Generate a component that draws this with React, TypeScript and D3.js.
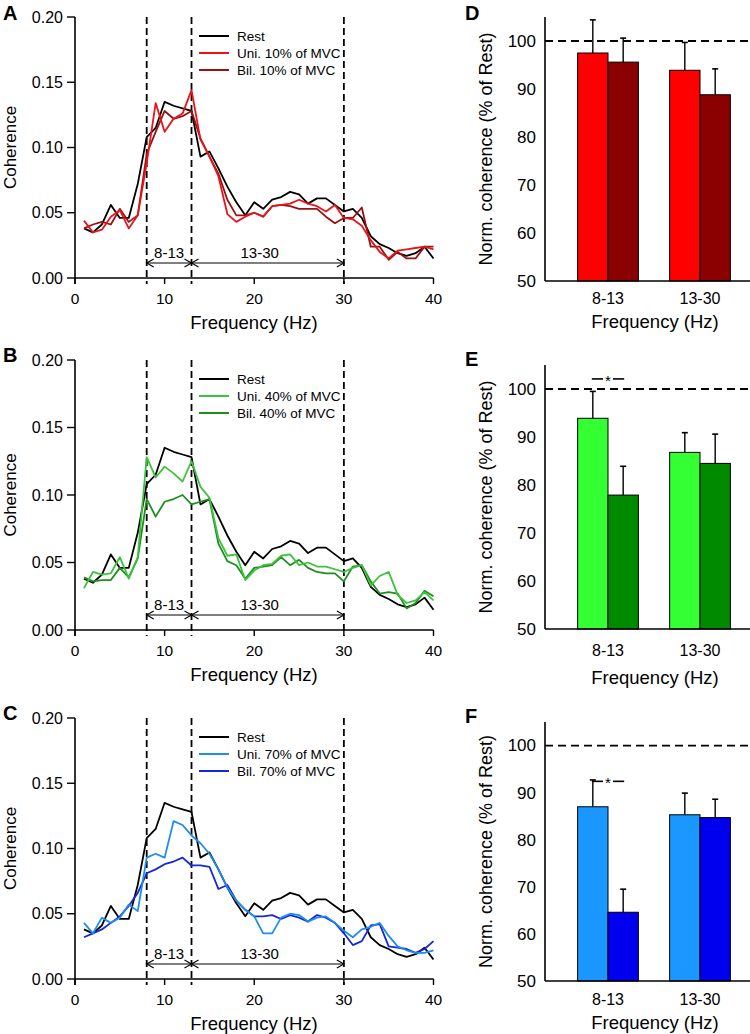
import React from 'react';
import * as d3 from 'd3';

// ---------- data ----------
const freqs = [1, 2, 3, 4, 5, 6, 7, 8, 9, 10, 11, 12, 13, 14, 15, 16, 17, 18, 19, 20,
  21, 22, 23, 24, 25, 26, 27, 28, 29, 30, 31, 32, 33, 34, 35, 36, 37, 38, 39, 40];

const rest = [0.038, 0.035, 0.041, 0.056, 0.046, 0.046, 0.072, 0.108, 0.115, 0.135,
  0.132, 0.130, 0.128, 0.093, 0.097, 0.084, 0.070, 0.058, 0.048, 0.058,
  0.053, 0.060, 0.062, 0.066, 0.064, 0.057, 0.061, 0.061, 0.056, 0.051,
  0.053, 0.046, 0.032, 0.026, 0.023, 0.019, 0.017, 0.019, 0.024, 0.015];

const uni10 = [0.044, 0.035, 0.037, 0.047, 0.052, 0.038, 0.048, 0.088, 0.134, 0.112,
  0.122, 0.126, 0.144, 0.106, 0.093, 0.078, 0.049, 0.043, 0.047, 0.050,
  0.047, 0.055, 0.056, 0.057, 0.060, 0.057, 0.055, 0.051, 0.056, 0.046,
  0.045, 0.040, 0.029, 0.020, 0.015, 0.021, 0.022, 0.023, 0.024, 0.022];

const bil10 = [0.038, 0.041, 0.043, 0.041, 0.053, 0.043, 0.048, 0.095, 0.112, 0.128,
  0.122, 0.124, 0.128, 0.107, 0.093, 0.080, 0.060, 0.048, 0.048, 0.050,
  0.047, 0.055, 0.056, 0.055, 0.053, 0.053, 0.053, 0.047, 0.042, 0.046,
  0.046, 0.054, 0.024, 0.024, 0.014, 0.020, 0.015, 0.015, 0.024, 0.024];

const uni40 = [0.031, 0.043, 0.041, 0.042, 0.054, 0.038, 0.054, 0.128, 0.113, 0.121,
  0.116, 0.110, 0.125, 0.106, 0.098, 0.068, 0.055, 0.056, 0.037, 0.044,
  0.048, 0.049, 0.055, 0.056, 0.048, 0.050, 0.047, 0.047, 0.045, 0.043,
  0.046, 0.048, 0.033, 0.040, 0.043, 0.026, 0.020, 0.022, 0.028, 0.022];

const bil40 = [0.039, 0.036, 0.037, 0.037, 0.046, 0.039, 0.053, 0.097, 0.084, 0.095,
  0.097, 0.100, 0.093, 0.095, 0.097, 0.064, 0.051, 0.048, 0.038, 0.046,
  0.047, 0.048, 0.054, 0.048, 0.052, 0.046, 0.043, 0.042, 0.042, 0.036,
  0.047, 0.048, 0.036, 0.027, 0.028, 0.027, 0.016, 0.020, 0.029, 0.025];

const uni70 = [0.043, 0.035, 0.047, 0.043, 0.047, 0.057, 0.052, 0.093, 0.096, 0.093,
  0.121, 0.118, 0.110, 0.104, 0.096, 0.084, 0.070, 0.060, 0.053, 0.048,
  0.035, 0.035, 0.047, 0.050, 0.049, 0.044, 0.047, 0.048, 0.043, 0.037,
  0.032, 0.038, 0.040, 0.043, 0.033, 0.025, 0.022, 0.020, 0.020, 0.022];

const bil70 = [0.032, 0.035, 0.038, 0.043, 0.048, 0.056, 0.066, 0.081, 0.084, 0.088,
  0.090, 0.093, 0.087, 0.087, 0.086, 0.069, 0.072, 0.060, 0.053, 0.048,
  0.048, 0.049, 0.046, 0.049, 0.047, 0.044, 0.049, 0.047, 0.043, 0.035,
  0.026, 0.029, 0.041, 0.042, 0.025, 0.024, 0.023, 0.020, 0.023, 0.029];

const cohTicks = [0, 0.05, 0.1, 0.15, 0.2];
const freqTicks = [0, 10, 20, 30, 40];
const bandEdges = [8, 13, 30];
const bandLabels = ['8-13', '13-30'];
const normTicks = [50, 60, 70, 80, 90, 100];

// normalized coherence (% of rest): mean and top of error bar
const uni10Norm = [97.5, 93.9];
const uni10ErrTop = [104.4, 99.7];
const bil10Norm = [95.6, 88.8];
const bil10ErrTop = [100.6, 94.2];
const uni40Norm = [93.9, 86.8];
const uni40ErrTop = [99.5, 90.9];
const bil40Norm = [77.9, 84.5];
const bil40ErrTop = [83.9, 90.6];
const uni70Norm = [87.0, 85.3];
const uni70ErrTop = [92.7, 89.9];
const bil70Norm = [64.6, 84.7];
const bil70ErrTop = [69.5, 88.6];

const FONT = '"Liberation Sans", Arial, Helvetica, sans-serif';

type LineProps = {
  letter: string; top: number; bottom: number;
  uni: number[]; bil: number[]; uniColor: string; bilColor: string;
  uniLabel: string; bilLabel: string;
};

function LinePanel(p: LineProps) {
  const x = d3.scaleLinear().domain([0, 40]).range([75, 433.5]);
  const y = d3.scaleLinear().domain([0, 0.2]).range([p.bottom, p.top]);
  const line = d3.line<number>().x((_, i) => x(freqs[i])).y(d => y(d));
  const fmt = d3.format('.2f');
  const arrowY = p.bottom - 15;
  const legendRows = [
    { label: 'Rest', color: '#000' },
    { label: p.uniLabel, color: p.uniColor },
    { label: p.bilLabel, color: p.bilColor },
  ];
  const arrow = (a: number, b: number, key: string) => {
    const x1 = x(a), x2 = x(b);
    return (
      <g key={key} stroke="#000" strokeWidth={1.1} fill="none">
        <line x1={x1} x2={x2} y1={arrowY} y2={arrowY} />
        <polyline points={`${x1 + 7},${arrowY - 4} ${x1},${arrowY} ${x1 + 7},${arrowY + 4}`} />
        <polyline points={`${x2 - 7},${arrowY - 4} ${x2},${arrowY} ${x2 - 7},${arrowY + 4}`} />
      </g>
    );
  };
  return (
    <g fontFamily={FONT}>
      <text x={3} y={Math.max(p.top + 2, 20)} fontSize={20} fontWeight="bold">{p.letter}</text>
      <text transform={`translate(10,${(p.top + p.bottom) / 2}) rotate(-90)`} textAnchor="middle"
        dominantBaseline="central" fontSize={17}>Coherence</text>
      {/* axes */}
      <line x1={75} x2={75} y1={p.top} y2={p.bottom + 6} stroke="#000" strokeWidth={1.6} />
      <line x1={75} x2={433.5} y1={p.bottom} y2={p.bottom} stroke="#000" strokeWidth={1.6} />
      {cohTicks.map(t => (
        <g key={t}>
          <line x1={67} x2={75} y1={y(t)} y2={y(t)} stroke="#000" strokeWidth={1.4} />
          <text x={63} y={y(t)} dy="0.35em" textAnchor="end" fontSize={16}>{fmt(t)}</text>
        </g>
      ))}
      {freqTicks.map(t => (
        <g key={t}>
          <line x1={x(t)} x2={x(t)} y1={p.bottom} y2={p.bottom + 6} stroke="#000" strokeWidth={1.4} />
          <text x={x(t)} y={p.bottom + 21} dy="0.35em" textAnchor="middle" fontSize={15.5}>{t}</text>
        </g>
      ))}
      <text x={254} y={p.bottom + 45} dy="0.35em" textAnchor="middle" fontSize={18.5}>Frequency (Hz)</text>
      {/* band markers */}
      {bandEdges.map(b => (
        <line key={b} x1={x(b)} x2={x(b)} y1={p.top} y2={p.bottom + 6} stroke="#000"
          strokeWidth={1.8} strokeDasharray="7,4" />
      ))}
      {arrow(bandEdges[0], bandEdges[1], 'a1')}
      {arrow(bandEdges[1], bandEdges[2], 'a2')}
      <text x={(x(bandEdges[0]) + x(bandEdges[1])) / 2} y={p.bottom - 25} dy="0.35em" textAnchor="middle"
        fontSize={15}>{bandLabels[0]}</text>
      <text x={(x(bandEdges[1]) + x(bandEdges[2])) / 2 - 8} y={p.bottom - 25} dy="0.35em" textAnchor="middle"
        fontSize={15}>{bandLabels[1]}</text>
      {/* series */}
      <path d={line(rest) || ''} fill="none" stroke="#000" strokeWidth={1.8} strokeLinejoin="round" />
      <path d={line(p.bil) || ''} fill="none" stroke={p.bilColor} strokeWidth={1.8} strokeLinejoin="round" />
      <path d={line(p.uni) || ''} fill="none" stroke={p.uniColor} strokeWidth={1.8} strokeLinejoin="round" />
      {/* legend */}
      {legendRows.map((r, i) => (
        <g key={r.label}>
          <line x1={199} x2={229} y1={p.top + 19 + i * 17} y2={p.top + 19 + i * 17} stroke={r.color} strokeWidth={2} />
          <text x={237} y={p.top + 19 + i * 17} dy="0.35em" fontSize={13.5}>{r.label}</text>
        </g>
      ))}
    </g>
  );
}

type BarProps = {
  letter: string; top: number; bottom: number;
  uni: number[]; uniTop: number[]; bil: number[]; bilTop: number[];
  uniColor: string; bilColor: string; sigValue?: number;
  catDy: number; titleDy: number;
};

function BarPanel(p: BarProps) {
  const y = d3.scaleLinear().domain([50, 105]).range([p.bottom, p.top]);
  const x = d3.scaleBand<string>().domain(bandLabels).range([562, 746]).paddingInner(0.34).paddingOuter(0.17);
  const bw = x.bandwidth() / 2;
  const bars: { key: string; x0: number; v: number; e: number; color: string }[] = [];
  bandLabels.forEach((c, i) => {
    const x0 = x(c) as number;
    bars.push({ key: c + 'u', x0, v: p.uni[i], e: p.uniTop[i], color: p.uniColor });
    bars.push({ key: c + 'b', x0: x0 + bw, v: p.bil[i], e: p.bilTop[i], color: p.bilColor });
  });
  const x0 = x(bandLabels[0]) as number;
  const c1 = x0 + bw / 2, c2 = x0 + bw * 1.5, cm = (c1 + c2) / 2;
  return (
    <g fontFamily={FONT}>
      <text x={465} y={Math.max(p.top + 1, 20)} fontSize={20} fontWeight="bold">{p.letter}</text>
      <text transform={`translate(486,${(p.top + p.bottom) / 2}) rotate(-90)`} textAnchor="middle"
        dominantBaseline="central" fontSize={18}>Norm. coherence (% of Rest)</text>
      <line x1={545} x2={750} y1={y(100)} y2={y(100)} stroke="#000" strokeWidth={1.8} strokeDasharray="8,5" />
      {bars.map(b => (
        <g key={b.key}>
          <line x1={b.x0 + bw / 2} x2={b.x0 + bw / 2} y1={y(b.v)} y2={y(b.e)} stroke="#000" strokeWidth={1.4} />
          <line x1={b.x0 + bw / 2 - 3} x2={b.x0 + bw / 2 + 3} y1={y(b.e)} y2={y(b.e)} stroke="#000" strokeWidth={1.6} />
          <rect x={b.x0} y={y(b.v)} width={bw} height={p.bottom - y(b.v)} fill={b.color} stroke="#000" strokeWidth={1} />
        </g>
      ))}
      <line x1={545} x2={545} y1={p.top} y2={p.bottom} stroke="#000" strokeWidth={1.6} />
      <line x1={545} x2={750} y1={p.bottom} y2={p.bottom} stroke="#000" strokeWidth={1.6} />
      {normTicks.map(t => (
        <text key={t} x={536} y={y(t)} dy="0.35em" textAnchor="end" fontSize={17}>{t}</text>
      ))}
      {bandLabels.map(c => (
        <text key={c} x={(x(c) as number) + x.bandwidth() / 2} y={p.bottom + p.catDy} dy="0.35em" textAnchor="middle"
          fontSize={16}>{c}</text>
      ))}
      <text x={655} y={p.bottom + p.titleDy} dy="0.35em" textAnchor="middle" fontSize={18.5}>Frequency (Hz)</text>
      {p.sigValue !== undefined && (
        <g>
          <line x1={c1 - 1} x2={cm - 5} y1={y(p.sigValue)} y2={y(p.sigValue)} stroke="#000" strokeWidth={1.6} />
          <line x1={cm + 5} x2={c2 + 1} y1={y(p.sigValue)} y2={y(p.sigValue)} stroke="#000" strokeWidth={1.6} />
          <text x={cm} y={y(p.sigValue) + 7} textAnchor="middle" fontSize={15}>*</text>
        </g>
      )}
    </g>
  );
}

export default function App() {
  return (
    <svg width={750} height={1034} style={{ position: 'absolute', left: 0, top: 0, display: 'block', background: '#fff' }}>
      <rect width={750} height={1034} fill="#fff" />
      <LinePanel letter="A" top={17} bottom={278} uni={uni10} bil={bil10} uniColor="#e8141c" bilColor="#9c1010"
        uniLabel="Uni. 10% of MVC" bilLabel="Bil. 10% of MVC" />
      <LinePanel letter="B" top={360} bottom={630} uni={uni40} bil={bil40} uniColor="#3cc23c" bilColor="#1c8f1c"
        uniLabel="Uni. 40% of MVC" bilLabel="Bil. 40% of MVC" />
      <LinePanel letter="C" top={718} bottom={979} uni={uni70} bil={bil70} uniColor="#1e8cf0" bilColor="#1428d8"
        uniLabel="Uni. 70% of MVC" bilLabel="Bil. 70% of MVC" />
      <BarPanel letter="D" top={17} bottom={281} uni={uni10Norm} uniTop={uni10ErrTop} bil={bil10Norm}
        bilTop={bil10ErrTop} uniColor="#ff0000" bilColor="#8b0000" catDy={17} titleDy={41} />
      <BarPanel letter="E" top={365} bottom={629} uni={uni40Norm} uniTop={uni40ErrTop} bil={bil40Norm}
        bilTop={bil40ErrTop} uniColor="#33ff33" bilColor="#008a00" sigValue={102.1} catDy={21} titleDy={49} />
      <BarPanel letter="F" top={722} bottom={981} uni={uni70Norm} uniTop={uni70ErrTop} bil={bil70Norm}
        bilTop={bil70ErrTop} uniColor="#1a98ff" bilColor="#0000ee" sigValue={92.4} catDy={18} titleDy={42} />
    </svg>
  );
}
